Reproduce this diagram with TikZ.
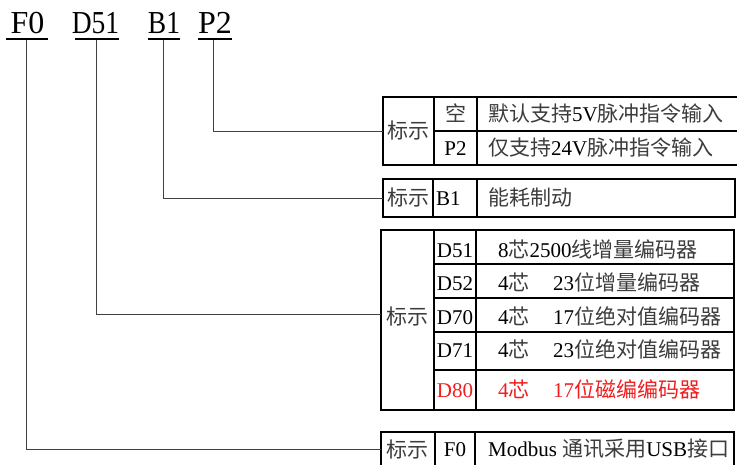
\documentclass[tikz,border=0pt]{standalone}
\usepackage{graphicx}
\usepackage{fontspec}
\setmainfont{Liberation Serif}
\newfontfamily\cjk{Noto Sans CJK SC}
\definecolor{cjkgray}{RGB}{60,60,60}
\definecolor{myred}{RGB}{240,30,30}
\newcommand\zwtxt[1]{{\cjk\color{cjkgray}#1}}
\newcommand\zwred[1]{{\cjk #1}}
\begin{document}
\begin{tikzpicture}[x=1pt,y=-1pt,
  box/.style={draw, line width=1.8pt, inner sep=0pt, outer sep=0pt, anchor=north west},
  gridline/.style={line width=1.8pt},
  conn/.style={line width=1pt, draw=black!75},
  ul/.style={line width=2.4pt},
  toplab/.style={font=\fontsize{32}{32}\selectfont, anchor=base, inner sep=0pt},
  lat/.style={font=\fontsize{21}{21}\selectfont, anchor=base, inner sep=0pt},
  txt/.style={font=\fontsize{21}{21}\selectfont, anchor=base west, inner sep=0pt},
]
\useasboundingbox (0,0) rectangle (737,464);
\clip (0,0) rectangle (737,464);

% top labels
\node[toplab] (lF0) at (27.5,33) {F0};
\node[toplab] (lD51) at (95.5,33) {\scalebox{0.86}[1]{D51}};
\node[toplab] (lB1) at (164,33) {\scalebox{0.86}[1]{B1}};
\node[toplab] (lP2) at (215,33) {P2};
\draw[ul] (6,39) -- (48,39);
\draw[ul] (75,39) -- (119,39);
\draw[ul] (148,39) -- (180,39);
\draw[ul] (198,39) -- (232,39);
\coordinate (uF0) at (26,40);
\coordinate (uD51) at (96,40);
\coordinate (uB1) at (163,40);
\coordinate (uP2) at (213,40);

% tables
\node[box, minimum width=362pt, minimum height=68pt] (T1) at (383,97) {};
\node[box, minimum width=352pt, minimum height=38pt] (T2) at (383,179) {};
\node[box, minimum width=353pt, minimum height=180pt] (T3) at (381,230) {};
\node[box, minimum width=353pt, minimum height=34pt] (T4) at (381,432) {};

\draw[gridline] (434,97) -- (434,165);
\draw[gridline] (477,97) -- (477,165);
\draw[gridline] (434,131) -- (745,131);

\draw[gridline] (433,179) -- (433,217);
\draw[gridline] (477,179) -- (477,217);

\draw[gridline] (434,230) -- (434,410);
\draw[gridline] (476,230) -- (476,410);
\foreach \yy in {264,298,332,370} \draw[gridline] (434,\yy) -- (734,\yy);

\draw[gridline] (435,432) -- (435,466);
\draw[gridline] (475,432) -- (475,466);

% connectors
\coordinate (c3) at (381,314);
\draw[conn] (uP2) |- (T1.west);
\draw[conn] (uB1) |- (T2.west);
\draw[conn] (uD51) |- (c3);
\draw[conn] (uF0) |- (T4.west);

% table 1 text
\node[lat] (t1a) at (408.5,138.5) {\zwtxt{标示}};
\node[lat] (t1b) at (455.5,121.5) {\zwtxt{空}};
\node[lat] (t1c) at (455.5,155.5) {P2};
\node[txt] (t1d) at (488,121.5) {\zwtxt{默认支持}5V\zwtxt{脉冲指令输入}};
\node[txt] (t1e) at (488,155.5) {\zwtxt{仅支持}24V\zwtxt{脉冲指令输入}};

% table 2 text
\node[lat] (t2a) at (408,205.5) {\zwtxt{标示}};
\node[txt] (t2b) at (436,205.5) {B1};
\node[txt] (t2c) at (488,205.5) {\zwtxt{能耗制动}};

% table 3 text
\node[lat] (t3a) at (407.5,324.5) {\zwtxt{标示}};
\node[lat] (t3b) at (455,257) {D51};
\node[lat] (t3c) at (455,290.5) {D52};
\node[lat] (t3d) at (455,324.5) {D70};
\node[lat] (t3e) at (455,357.5) {D71};
\node[lat, text=myred] (t3f) at (455,397) {D80};
\node[txt] (t3g) at (498,257) {8\zwtxt{芯}2500\zwtxt{线增量编码器}};
\node[txt] (t3h) at (498,290.5) {4\zwtxt{芯}\hspace{23.5pt}23\zwtxt{位增量编码器}};
\node[txt] (t3i) at (498,324.5) {4\zwtxt{芯}\hspace{23.5pt}17\zwtxt{位绝对值编码器}};
\node[txt] (t3j) at (498,357.5) {4\zwtxt{芯}\hspace{23.5pt}23\zwtxt{位绝对值编码器}};
\node[txt, text=myred] (t3k) at (498,397) {4\zwred{芯}\hspace{23.5pt}17\zwred{位磁编编码器}};

% table 4 text
\node[lat] (t4a) at (407.5,457.5) {\zwtxt{标示}};
\node[lat] (t4b) at (455,456) {F0};
\node[txt] (t4c) at (488,456) {Modbus \zwtxt{通讯采用}USB\zwtxt{接口}};
\end{tikzpicture}
\end{document}
